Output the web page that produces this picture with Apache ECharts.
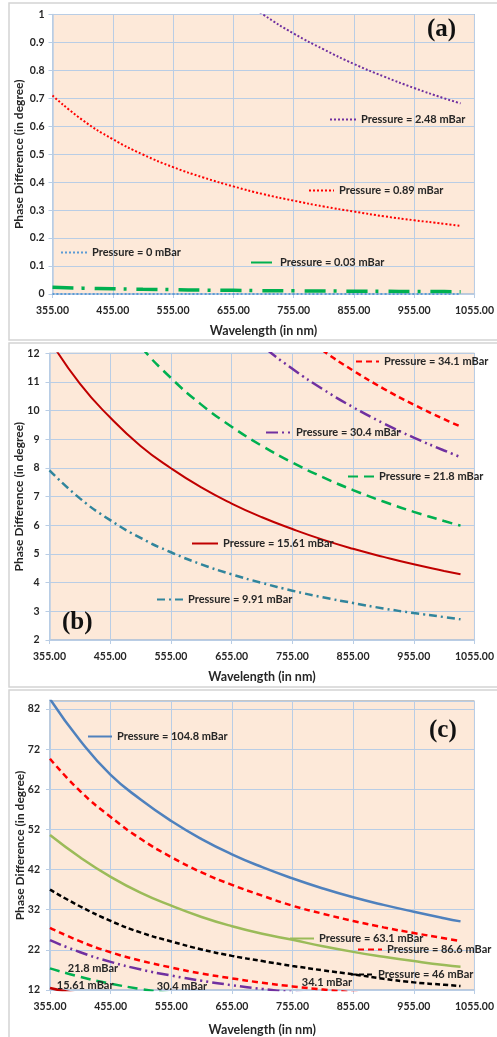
<!DOCTYPE html>
<html>
<head>
<meta charset="utf-8">
<script src="https://cdn.jsdelivr.net/npm/echarts@6/dist/echarts.min.js"></script>
<style>
html, body { margin: 0; padding: 0; background: #fff; }
#chart { width: 497px; height: 1037px; }
</style>
</head>
<body>
<div id="chart"></div>
<script>
// Wavelength samples (nm), shared by every curve
const wavelengths = [355, 405, 455, 505, 555, 605, 655, 705, 755, 805, 855, 905, 955, 1005, 1032];

// Panel (a) phase difference (degree)
const p0_00 = [0, 0, 0, 0, 0, 0, 0, 0, 0, 0, 0, 0, 0, 0, 0];
const p0_03 = [0.024, 0.021, 0.019, 0.017, 0.0155, 0.014, 0.013, 0.012, 0.0114, 0.0107, 0.010, 0.0095, 0.009, 0.0086, 0.0083];
const p0_89 = [0.710, 0.622, 0.554, 0.499, 0.454, 0.417, 0.385, 0.357, 0.334, 0.313, 0.295, 0.278, 0.264, 0.251, 0.244];
const p2_48 = [1.98, 1.74, 1.55, 1.39, 1.27, 1.16, 1.075, 0.999, 0.932, 0.875, 0.823, 0.778, 0.737, 0.700, 0.682];

// Panel (b) / (c) phase difference (degree)
const p9_91 = [7.92, 6.94, 6.18, 5.56, 5.06, 4.64, 4.29, 3.99, 3.72, 3.49, 3.29, 3.10, 2.94, 2.80, 2.72];
const p15_61 = [12.48, 10.94, 9.76, 8.77, 7.99, 7.32, 6.76, 6.28, 5.87, 5.50, 5.18, 4.90, 4.64, 4.41, 4.29];
const p21_8 = [17.4, 15.26, 13.58, 12.24, 11.14, 10.21, 9.44, 8.77, 8.19, 7.68, 7.23, 6.83, 6.47, 6.15, 5.99];
const p30_4 = [24.4, 21.4, 19.0, 17.1, 15.6, 14.3, 13.2, 12.27, 11.46, 10.75, 10.12, 9.56, 9.06, 8.61, 8.38];
const p34_1 = [27.5, 24.1, 21.4, 19.3, 17.6, 16.1, 14.9, 13.8, 12.9, 12.1, 11.4, 10.77, 10.21, 9.70, 9.45];
const p46 = [37.0, 32.8, 29.2, 26.3, 24.1, 22.1, 20.5, 19.2, 18.0, 16.9, 15.9, 14.8, 13.9, 13.3, 13.0];
const p63_1 = [50.6, 45.0, 40.2, 36.2, 33.0, 30.2, 27.9, 26.0, 24.5, 22.9, 21.5, 20.3, 19.2, 18.2, 17.8];
const p86_6 = [69.6, 61.5, 55.1, 49.6, 45.1, 41.3, 38.2, 35.5, 33.0, 31.0, 29.2, 27.6, 26.2, 24.9, 24.2];
const p104_8 = [84.5, 74.1, 65.6, 59.4, 54.1, 49.6, 45.8, 42.6, 39.8, 37.3, 35.1, 33.2, 31.5, 29.9, 29.1];

// Axis tick settings
const xMin = 355, xMax = 1055, xStep = 100;
const yRanges = [
    { min: 0, max: 1, interval: 0.1 },
    { min: 2, max: 12, interval: 1 },
    { min: 12, max: 84, interval: 10 }
];

const chart = echarts.init(document.getElementById('chart'));

const FONT = 'Lato, "Open Sans", sans-serif';
const GRID_COLOR = '#b9cde5';
const TEXT_COLOR = '#262626';

const PURPLE_DDD = [12, 4, 2, 4, 2, 4];
const TEAL_DD = [8, 4, 2, 4];

function pts(values) {
    return wavelengths.map((w, i) => [w, values[i]]);
}

function line(name, values, grid, color, width, type, z) {
    return {
        name: name,
        type: 'line',
        xAxisIndex: grid,
        yAxisIndex: grid,
        data: pts(values),
        smooth: 0.5,
        symbol: 'none',
        clip: true,
        z: z || 2,
        lineStyle: { color: color, width: width, type: type },
        itemStyle: { color: color }
    };
}

function legendAt(name, left, y, w, short) {
    const lg = {
        data: [name],
        left: left,
        top: y - 6,
        padding: 0,
        itemWidth: w,
        itemHeight: 12,
        selectedMode: false,
        itemStyle: { opacity: 0 },
        textStyle: { fontFamily: FONT, fontWeight: 'bold', fontSize: 11, color: TEXT_COLOR }
    };
    if (short) {
        lg.itemWidth = 0;
        lg.lineStyle = { opacity: 0 };
        lg.formatter = n => n.replace('Pressure = ', '');
    }
    return lg;
}

const grids = [
    { left: 52.5, top: 14.5, width: 429.5, height: 279.5 },
    { left: 49.5, top: 353.3, width: 432, height: 286.7 },
    { left: 50, top: 701, width: 430.5, height: 290.7 }
];
const nameGaps = [30, 30, 33];

const option = {
    animation: false,
    backgroundColor: '#fff',
    graphic: [
        { type: 'rect', shape: { x: 9, y: 3, width: 500, height: 337 }, style: { fill: 'none', stroke: '#d4d4d4', lineWidth: 1.5 }, z: -1 },
        { type: 'rect', shape: { x: 9, y: 343, width: 500, height: 344 }, style: { fill: 'none', stroke: '#d4d4d4', lineWidth: 1.5 }, z: -1 },
        { type: 'rect', shape: { x: 9, y: 690, width: 500, height: 360 }, style: { fill: 'none', stroke: '#d4d4d4', lineWidth: 1.5 }, z: -1 }
    ],
    title: [
        { text: '(a)', left: 427, top: 17, padding: 0 },
        { text: '(b)', left: 62, top: 610, padding: 0 },
        { text: '(c)', left: 429, top: 718, padding: 0 }
    ].map(t => Object.assign(t, {
        textStyle: { fontFamily: '"Liberation Serif", serif', fontWeight: 'bold', fontSize: 25, color: '#111' }
    })),
    grid: grids.map(g => Object.assign({}, g, {
        show: true,
        backgroundColor: '#fde9d9',
        borderColor: '#8c8c8c',
        borderWidth: 1
    })),
    xAxis: grids.map((g, i) => ({
        type: 'value',
        gridIndex: i,
        min: xMin,
        max: xMax,
        interval: xStep,
        name: 'Wavelength (in nm)',
        nameLocation: 'middle',
        nameGap: nameGaps[i],
        nameMoveOverlap: false,
        nameTextStyle: { fontFamily: FONT, fontWeight: 'bold', fontSize: 12.5, color: TEXT_COLOR },
        axisLine: { show: true, lineStyle: { color: GRID_COLOR, width: 1.5 } },
        axisTick: { show: true, length: 4, lineStyle: { color: GRID_COLOR } },
        axisLabel: {
            margin: 11,
            fontFamily: FONT, fontWeight: 'bold', fontSize: 10.5, color: TEXT_COLOR,
            formatter: v => v.toFixed(2)
        },
        splitLine: { show: true, lineStyle: { color: GRID_COLOR, width: 1 } }
    })),
    yAxis: grids.map((g, i) => ({
        type: 'value',
        gridIndex: i,
        min: yRanges[i].min,
        max: yRanges[i].max,
        interval: yRanges[i].interval,
        name: 'Phase Difference (in degree)',
        nameLocation: 'middle',
        nameGap: i === 0 ? 27 : 24,
        nameMoveOverlap: false,
        nameTextStyle: { fontFamily: FONT, fontWeight: 'bold', fontSize: 12, color: TEXT_COLOR },
        axisLine: { show: true, lineStyle: { color: GRID_COLOR, width: 1.5 } },
        axisTick: { show: true, length: 4, lineStyle: { color: GRID_COLOR } },
        axisLabel: {
            margin: i === 0 ? 8 : 10,
            showMaxLabel: i !== 2,
            fontFamily: FONT, fontWeight: 'bold', fontSize: 10.5, color: TEXT_COLOR
        },
        splitLine: { show: true, lineStyle: { color: GRID_COLOR, width: 1 } }
    })),
    legend: [
        legendAt('Pressure = 2.48 mBar', 329, 120, 26),
        legendAt('Pressure = 0.89 mBar', 308, 191, 25),
        legendAt('Pressure = 0 mBar', 60, 253, 26),
        legendAt('Pressure = 0.03 mBar', 250, 263, 24),

        legendAt('Pressure = 34.1 mBar', 355, 362, 23),
        legendAt('Pressure = 30.4 mBar', 265, 433, 25),
        legendAt('Pressure = 21.8 mBar', 347, 477, 26),
        legendAt('Pressure = 15.61 mBar', 191, 544, 26),
        legendAt('Pressure = 9.91 mBar', 156, 600, 26),

        legendAt('Pressure = 104.8 mBar', 87, 737, 24),
        legendAt('Pressure = 63.1 mBar', 289, 939, 24),
        legendAt('Pressure = 86.6 mBar', 357, 950, 24),
        legendAt('Pressure = 46 mBar', 350, 975, 22),
        legendAt('Pressure = 34.1 mBar', 292, 983, 0, true),
        legendAt('Pressure = 30.4 mBar', 147, 987, 0, true),
        legendAt('Pressure = 21.8 mBar', 58, 969, 0, true),
        legendAt('Pressure = 15.61 mBar', 47, 986, 0, true)
    ],
    series: [
        // (a)
        line('Pressure = 0 mBar', p0_00, 0, '#5b9bd5', 2, [2, 2], 4),
        line('Pressure = 0.03 mBar', p0_03, 0, '#00b050', 3.5, [21, 8, 3, 10], 3),
        line('Pressure = 0.89 mBar', p0_89, 0, '#ff0000', 2, [2, 2]),
        line('Pressure = 2.48 mBar', p2_48, 0, '#7030a0', 2, [2, 2]),
        // (b)
        line('Pressure = 9.91 mBar', p9_91, 1, '#31859c', 2.5, TEAL_DD),
        line('Pressure = 15.61 mBar', p15_61, 1, '#c00000', 2, 'solid'),
        line('Pressure = 21.8 mBar', p21_8, 1, '#00b050', 2.5, [10, 6]),
        line('Pressure = 30.4 mBar', p30_4, 1, '#7030a0', 2.5, PURPLE_DDD),
        line('Pressure = 34.1 mBar', p34_1, 1, '#ff0000', 2.5, [6, 4]),
        // (c)
        line('Pressure = 104.8 mBar', p104_8, 2, '#4f81bd', 2.5, 'solid'),
        line('Pressure = 86.6 mBar', p86_6, 2, '#ff0000', 2.5, [6, 4]),
        line('Pressure = 63.1 mBar', p63_1, 2, '#9bbb59', 2.5, 'solid'),
        line('Pressure = 46 mBar', p46, 2, '#000000', 2.5, [5, 3]),
        line('Pressure = 34.1 mBar', p34_1, 2, '#ff0000', 2.5, [6, 4]),
        line('Pressure = 30.4 mBar', p30_4, 2, '#7030a0', 2.5, PURPLE_DDD),
        line('Pressure = 21.8 mBar', p21_8, 2, '#00b050', 2.5, [10, 6]),
        line('Pressure = 15.61 mBar', p15_61, 2, '#c00000', 2.5, 'solid')
    ]
};

chart.setOption(option);
window.addEventListener('resize', () => chart.resize());
</script>
</body>
</html>
